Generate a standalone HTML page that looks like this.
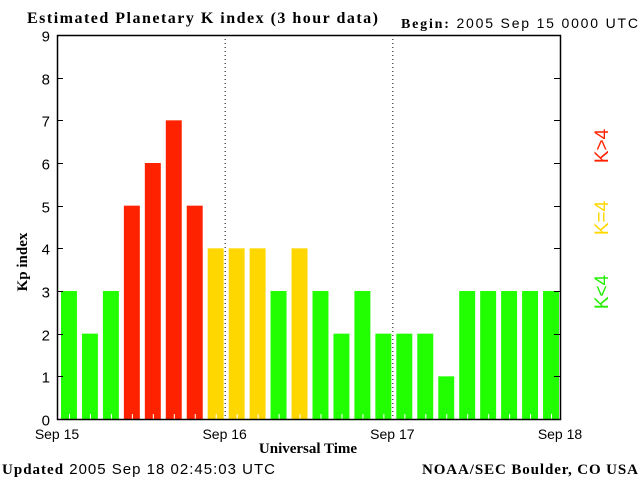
<!DOCTYPE html>
<html><head><meta charset="utf-8"><style>
body{margin:0;background:#fff;}
svg text{font-family:"Liberation Sans",sans-serif;}
.serif{font-family:"Liberation Serif",serif;font-weight:bold;}
</style></head><body>
<svg id="c" width="640" height="480" viewBox="0 0 640 480">
<text class="serif" x="27" y="23" font-size="16" textLength="351" lengthAdjust="spacing">Estimated Planetary K index (3 hour data)</text>
<text x="401" y="28" font-size="14" textLength="237" lengthAdjust="spacing"><tspan style="font-family:'Liberation Serif',serif;font-weight:bold">Begin:</tspan>  2005 Sep 15 0000 UTC</text>
<text class="serif" x="27" y="262" font-size="15" transform="rotate(-90 27 262)" text-anchor="middle">Kp index</text>
<text class="serif" x="308" y="453" font-size="15" text-anchor="middle">Universal Time</text>
<text x="2" y="474" font-size="15" textLength="273" lengthAdjust="spacing"><tspan style="font-family:'Liberation Serif',serif;font-weight:bold">Updated</tspan> 2005 Sep 18 02:45:03 UTC</text>
<text class="serif" x="422" y="474" font-size="15" textLength="216" lengthAdjust="spacing">NOAA/SEC Boulder, CO USA</text>
<text x="608" y="292" font-size="19" fill="#22ee00" transform="rotate(-90 608 292)" text-anchor="middle">K&lt;4</text>
<text x="608" y="218" font-size="19" fill="#ffd700" transform="rotate(-90 608 218)" text-anchor="middle">K=4</text>
<text x="608" y="146" font-size="19" fill="#ff2200" transform="rotate(-90 608 146)" text-anchor="middle">K&gt;4</text>
<g id="bars"></g>
<g id="axes"></g>
</svg>
<script>
const values=[3,2,3,5,6,7,5,4,4,4,3,4,3,2,3,2,2,2,1,3,3,3,3,3];
const dayLabels=["Sep 15","Sep 16","Sep 17","Sep 18"];
const yTicks=[0,1,2,3,4,5,6,7,8,9];
const L=57,R=560,T=35,B=419;
const NS="http://www.w3.org/2000/svg";
const slot=(R-L)/values.length;
function x(i){return L+i*slot;}
function y(v){return B-v*(B-T)/9;}
function mk(tag,attrs,parent){const e=document.createElementNS(NS,tag);for(const k in attrs)e.setAttribute(k,attrs[k]);parent.appendChild(e);return e;}
const bars=document.getElementById('bars'),axes=document.getElementById('axes');
values.forEach((v,i)=>{
  const col=v>4?'#ff2200':(v==4?'#ffd700':'#22ff00');
  const r=mk('rect',{x:x(i)+4,y:y(v),width:slot-5,height:B-y(v),fill:col},bars);
  
  
  mk('line',{x1:x(i)+12.5,x2:x(i)+12.5,y1:B-5,y2:B,stroke:'#fff'},bars);
});
for(let d=1;d<3;d++){
  const l=mk('line',{x1:L+d*(R-L)/3+0.5,x2:L+d*(R-L)/3+0.5,y1:T,y2:B,stroke:'#000','stroke-dasharray':'1,3'},axes);
  
  
}
const fr=mk('rect',{x:L+0.5,y:T+0.5,width:R-L,height:B-T,fill:'none',stroke:'#000','stroke-width':1.5},axes);


yTicks.forEach(t=>{
  const yy=Math.round(y(t))+0.5;
  mk('line',{x1:L,x2:L+6,y1:yy,y2:yy,stroke:'#000'},axes);
  mk('line',{x1:R-6,x2:R,y1:yy,y2:yy,stroke:'#000'},axes);
  const tx=mk('text',{x:50,y:yy+6,'font-size':15,'text-anchor':'end'},axes);
  tx.textContent=t;
  
  
});
dayLabels.forEach((s,i)=>{
  const tx=mk('text',{x:L+i*(R-L)/3,y:439,'font-size':14,'text-anchor':'middle'},axes);
  tx.textContent=s;
  
  
});
</script>
</body></html>
